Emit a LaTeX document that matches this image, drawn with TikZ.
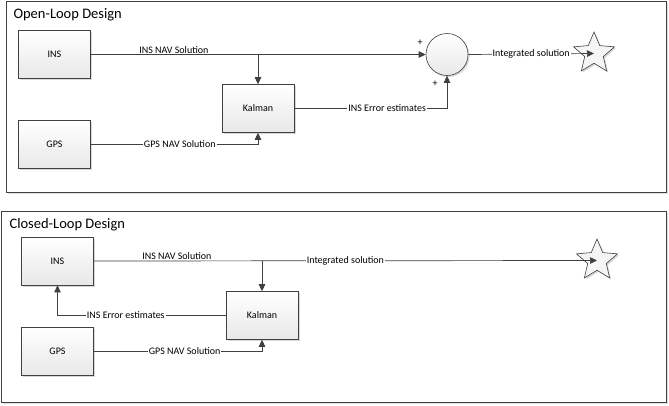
\documentclass[tikz,border=0pt]{standalone}
\usepackage{fontspec}
\setmainfont{Carlito}
\usetikzlibrary{arrows.meta,shapes.geometric,shadows,calc}
\definecolor{lc}{HTML}{404040}
\begin{document}
\begin{tikzpicture}[x=1pt,y=-1pt,
  frame/.style={draw=lc, line width=0.8pt, fill=white,
    drop shadow={shadow xshift=1.5pt, shadow yshift=-1.5pt, fill=black!20, opacity=0.6}},
  blk/.style={draw=lc, line width=0.6pt, top color=white, bottom color=black!9,
    minimum width=72pt, minimum height=48pt, inner sep=0pt,
    font=\fontsize{10}{12}\selectfont,
    drop shadow={shadow xshift=1.5pt, shadow yshift=-1.5pt, fill=black!25, opacity=0.6}},
  sumc/.style={circle, draw=lc, line width=0.6pt, top color=white, bottom color=black!9,
    minimum size=42pt, inner sep=0pt,
    drop shadow={shadow xshift=1.5pt, shadow yshift=-1.5pt, fill=black!25, opacity=0.6}},
  endstar/.style={star, star points=5, star point ratio=2.2, draw=lc, line width=0.6pt,
    fill=black!4, minimum size=43pt, inner sep=0pt,
    drop shadow={shadow xshift=1.5pt, shadow yshift=-1.5pt, fill=black!25, opacity=0.6}},
  conn/.style={draw=lc, line width=0.7pt},
  arr/.style={conn, -{Triangle[length=7pt,width=6.5pt]}},
  lab/.style={font=\fontsize{10}{12}\selectfont, fill=white, inner sep=1pt},
  labtop/.style={font=\fontsize{10}{12}\selectfont, inner sep=1pt, above},
  ttl/.style={font=\fontsize{14.5}{17}\selectfont, anchor=west},
  pls/.style={font=\fontsize{10}{12}\selectfont, inner sep=0pt}
]
\useasboundingbox (0,0) rectangle (669,405);

% ---------- Open-loop ----------
\path[frame] (6,1) rectangle (666,192);
\node[ttl] (t1) at (10,15) {Open-Loop Design};

\node[blk] (ins1) at (54.5,54.5) {INS};
\node[blk] (gps1) at (54.5,144.5) {GPS};
\node[blk] (kal1) at (258,108.5) {Kalman};
\node[sumc] (sum1) at (447,54.5) {};
\node[endstar] (star1) at (594,53.5) {};

\draw[arr] (ins1.east) -- node[labtop, pos=0.248] {INS NAV Solution} (sum1.west);
\draw[arr] (kal1.north |- ins1.east) -- (kal1.north);
\draw[arr] (gps1.east) -| node[lab, pos=0.266] {GPS NAV Solution} (kal1.south);
\draw[arr] (kal1.east) -| node[lab, pos=0.304] {INS Error estimates} (sum1.south);
\draw[arr] (sum1.east) -- node[lab, pos=0.5] {Integrated solution} (star1.center);
\node[pls] (p1) at (420,43) {+};
\node[pls] (p2) at (435,84) {+};

% ---------- Closed-loop ----------
\path[frame] (1,211) rectangle (666,402);
\node[ttl] (t2) at (6,225) {Closed-Loop Design};

\node[blk] (ins2) at (57.5,261) {INS};
\node[blk] (gps2) at (57.5,351.5) {GPS};
\node[blk] (kal2) at (262,315.5) {Kalman};
\node[endstar] (star2) at (597,260.5) {};

\draw[arr] (ins2.east) -- node[labtop, pos=0.165] {INS NAV Solution}
  node[lab, pos=0.5] {Integrated solution} (star2.center);
\draw[arr] (kal2.north |- ins2.east) -- (kal2.north);
\draw[arr] (kal2.west) -| node[lab, pos=0.297] {INS Error estimates} (ins2.south);
\draw[arr] (gps2.east) -| node[lab, pos=0.27] {GPS NAV Solution} (kal2.south);
\end{tikzpicture}
\end{document}
